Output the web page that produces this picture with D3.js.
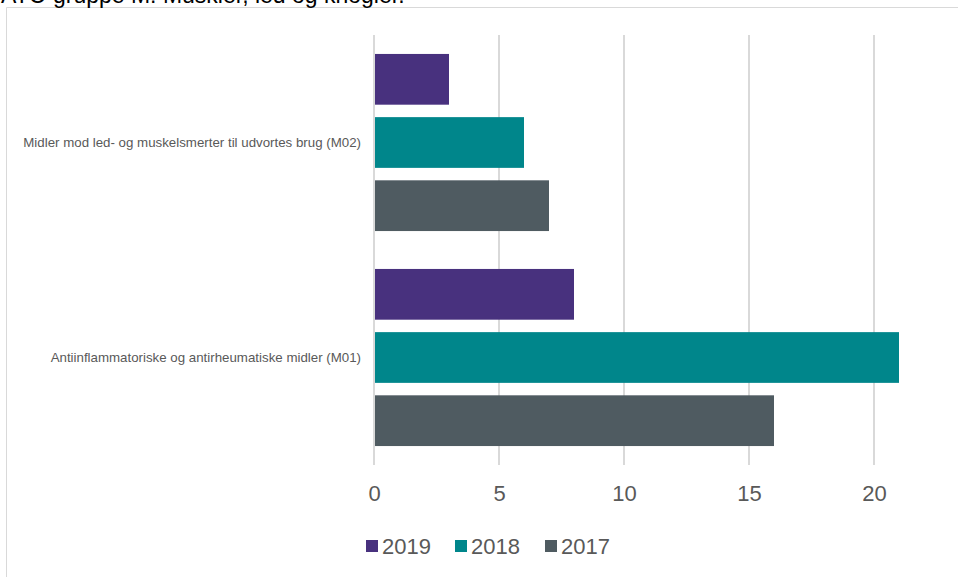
<!DOCTYPE html>
<html>
<head>
<meta charset="utf-8">
<script src="https://cdn.jsdelivr.net/npm/d3@7"></script>
<style>
  html, body { margin: 0; padding: 0; background: #fff; }
  svg { display: block; font-family: "Liberation Sans", Arial, sans-serif; }
</style>
</head>
<body>
<svg id="chart" width="958" height="577"></svg>
<script>
// Categories (top to bottom) and series values
const categories = [
  "Midler mod led- og muskelsmerter til udvortes brug (M02)",
  "Antiinflammatoriske og antirheumatiske midler (M01)"
];
const seriesNames = ["2019", "2018", "2017"];
const values2019 = [3, 8];
const values2018 = [6, 21];
const values2017 = [7, 16];
const xTicks = [0, 5, 10, 15, 20];
const titleText = "ATC-gruppe M: Muskler, led og knogler.";

const seriesValues = { "2019": values2019, "2018": values2018, "2017": values2017 };
const colors = { "2019": "#48317e", "2018": "#00868b", "2017": "#4f5b61" };

const svg = d3.select("#chart");

// Frame lines
svg.append("line").attr("x1", 6.5).attr("x2", 958).attr("y1", 7.5).attr("y2", 7.5)
  .attr("stroke", "#d9d9d9").attr("stroke-width", 1);
svg.append("line").attr("x1", 6.5).attr("x2", 6.5).attr("y1", 7.5).attr("y2", 577)
  .attr("stroke", "#d9d9d9").attr("stroke-width", 1);

// Title, running off the top edge of the page
svg.append("text").attr("x", 1).attr("y", 3)
  .attr("font-size", 23).attr("fill", "#000").text(titleText);

const plotTop = 35, plotBottom = 465;
const x = d3.scaleLinear().domain([0, 21]).range([374, 899]);
const y0 = d3.scaleBand().domain(categories).range([plotTop, plotBottom]);
const y1 = d3.scaleBand().domain(seriesNames).range([0, y0.bandwidth()])
  .paddingInner(0.197).paddingOuter(0.3);

// Vertical gridlines
svg.append("g").selectAll("line").data(xTicks).join("line")
  .attr("x1", d => x(d)).attr("x2", d => x(d))
  .attr("y1", plotTop).attr("y2", plotBottom)
  .attr("stroke", "#d9d9d9").attr("stroke-width", 2);

// Bars
const groups = svg.append("g").selectAll("g").data(categories).join("g")
  .attr("transform", d => `translate(0,${y0(d)})`);
groups.selectAll("rect")
  .data((c, i) => seriesNames.map(s => ({ s, v: seriesValues[s][i] })))
  .join("rect")
  .attr("x", x(0) + 1)
  .attr("y", d => y1(d.s))
  .attr("width", d => x(d.v) - x(0) - 1)
  .attr("height", y1.bandwidth())
  .attr("fill", d => colors[d.s]);

// Category labels
svg.append("g").selectAll("text").data(categories).join("text")
  .attr("x", 361)
  .attr("y", d => y0(d) + y1("2018") + y1.bandwidth() / 2)
  .attr("dy", "0.35em")
  .attr("text-anchor", "end")
  .attr("font-size", 13.3)
  .attr("fill", "#595959")
  .text(d => d);

// X axis tick labels
const xAxis = d3.axisBottom(x).tickValues(xTicks).tickSize(0).tickPadding(0);
const gx = svg.append("g").attr("transform", "translate(0,485)").call(xAxis);
gx.select(".domain").remove();
gx.selectAll("text")
  .attr("font-size", 22)
  .attr("font-family", "Liberation Sans, Arial, sans-serif")
  .attr("fill", "#595959");

// Legend
const legendItems = [
  { s: "2019", x: 366 },
  { s: "2018", x: 455 },
  { s: "2017", x: 545 }
];
const lg = svg.append("g").selectAll("g").data(legendItems).join("g")
  .attr("transform", d => `translate(${d.x},540)`);
lg.append("rect").attr("width", 12).attr("height", 12).attr("fill", d => colors[d.s]);
lg.append("text").attr("x", 16).attr("y", 6).attr("dy", "0.35em")
  .attr("font-size", 22).attr("fill", "#595959").text(d => d.s);
</script>
</body>
</html>
